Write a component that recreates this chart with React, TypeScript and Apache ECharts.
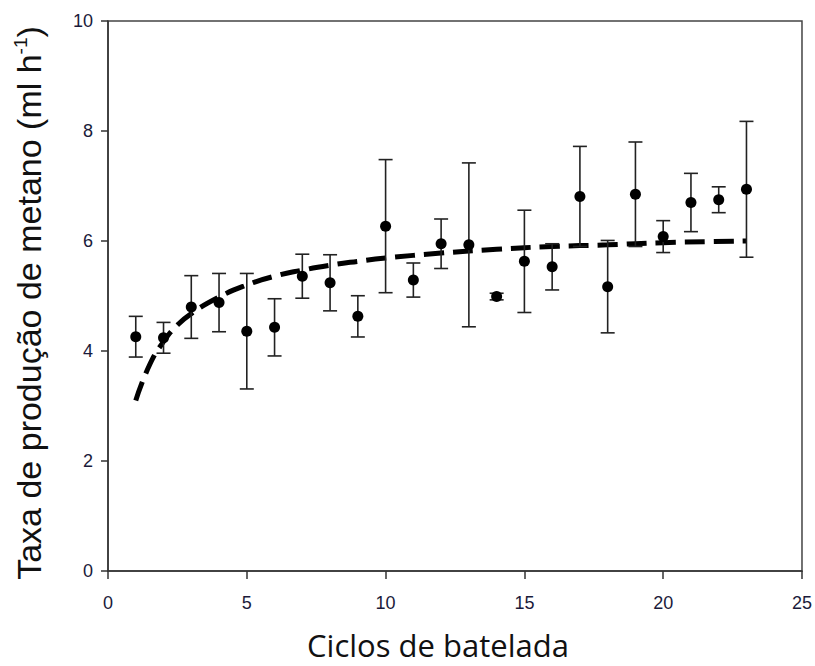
import React, { useEffect, useRef } from "react";
import * as echarts from "echarts";

const cycles = [1, 2, 3, 4, 5, 6, 7, 8, 9, 10, 11, 12, 13, 14, 15, 16, 17, 18, 19, 20, 21, 22, 23];
const means = [4.26, 4.24, 4.8, 4.88, 4.36, 4.43, 5.36, 5.24, 4.63, 6.27, 5.29, 5.95, 5.93, 4.99, 5.63, 5.53, 6.81, 5.17, 6.85, 6.08, 6.7, 6.75, 6.94];
const sds = [0.37, 0.28, 0.57, 0.53, 1.05, 0.52, 0.4, 0.51, 0.375, 1.21, 0.31, 0.45, 1.49, 0.06, 0.93, 0.42, 0.91, 0.84, 0.95, 0.29, 0.53, 0.235, 1.235];
const fitX = [1, 1.5, 2, 2.5, 3, 4, 5, 6, 7, 8, 9, 10, 12, 14, 16, 18, 20, 23];
const fitY = [3.1, 3.75, 4.17, 4.47, 4.68, 4.98, 5.2, 5.36, 5.47, 5.56, 5.63, 5.69, 5.78, 5.85, 5.9, 5.93, 5.97, 6.0];
const xTicks = [0, 5, 10, 15, 20, 25];
const yTicks = [0, 2, 4, 6, 8, 10];

export default function App() {
  const ref = useRef<HTMLDivElement>(null);
  useEffect(() => {
    if (!ref.current) return;
    const chart = echarts.init(ref.current, null, { renderer: "svg" });
    const pts = cycles.map((c, i) => [c, means[i]]);
    const errs = cycles.map((c, i) => [c, means[i] - sds[i], means[i] + sds[i]]);
    const fit = fitX.map((x, i) => [x, fitY[i]]);
    chart.setOption({
      animation: false,
      backgroundColor: "#ffffff",
      grid: { left: 108, right: 13, top: 21, bottom: 95, show: true, borderColor: "#444", borderWidth: 1.5 },
      xAxis: {
        type: "value",
        min: xTicks[0],
        max: xTicks[xTicks.length - 1],
        interval: 5,
        splitLine: { show: false },
        axisLine: { show: true, lineStyle: { color: "#333", width: 1.5 } },
        axisTick: { show: true, length: 8, lineStyle: { color: "#333", width: 1.5 } },
        axisLabel: { color: "#1a1a3a", fontSize: 18, margin: 23, fontFamily: "Liberation Sans Narrow, Arial Narrow, Liberation Sans, Arial, sans-serif" },
        name: "Ciclos de batelada",
        nameLocation: "middle",
        nameGap: 58,
        nameTextStyle: { fontSize: 31, color: "#111", fontFamily: "Open Sans, sans-serif", padding: [0, 34, 0, 0] },
      },
      yAxis: {
        type: "value",
        min: yTicks[0],
        max: yTicks[yTicks.length - 1],
        interval: 2,
        splitLine: { show: false },
        axisLine: { show: true, lineStyle: { color: "#333", width: 1.5 } },
        axisTick: { show: true, length: 7, lineStyle: { color: "#333", width: 1.5 } },
        axisLabel: { color: "#1a1a3a", fontSize: 18, margin: 15, fontFamily: "Liberation Sans, Arial, sans-serif" },
        name: "{a|Taxa de produção de metano (ml h}{s|-1}{a|)}",
        nameLocation: "middle",
        nameGap: 61,
        nameTextStyle: {
          padding: [0, 14, 0, 0],
          rich: {
            a: { fontSize: 34, color: "#111", fontFamily: "Liberation Sans, Arial, sans-serif" },
            s: { fontSize: 19, color: "#111", fontFamily: "Liberation Sans, Arial, sans-serif", padding: [0, 0, 17, 0] },
          },
        },
      },
      series: [
        {
          type: "line",
          data: fit,
          smooth: true,
          showSymbol: false,
          symbol: "none",
          lineStyle: { color: "#000", width: 5, type: [20, 9], cap: "butt" },
          z: 3,
        },
        {
          type: "custom",
          data: errs,
          z: 4,
          renderItem: (params: any, api: any) => {
            const x = api.value(0);
            const lo = api.coord([x, api.value(1)]);
            const hi = api.coord([x, api.value(2)]);
            const w = 7;
            const style = { stroke: "#222", lineWidth: 1.6 };
            return {
              type: "group",
              children: [
                { type: "line", shape: { x1: lo[0], y1: lo[1], x2: hi[0], y2: hi[1] }, style },
                { type: "line", shape: { x1: lo[0] - w, y1: lo[1], x2: lo[0] + w, y2: lo[1] }, style },
                { type: "line", shape: { x1: hi[0] - w, y1: hi[1], x2: hi[0] + w, y2: hi[1] }, style },
              ],
            };
          },
        },
        {
          type: "scatter",
          data: pts,
          symbol: "circle",
          symbolSize: 11,
          itemStyle: { color: "#000", opacity: 1 },
          z: 5,
        },
      ],
    });
    return () => chart.dispose();
  }, []);
  return <div ref={ref} style={{ width: 815, height: 666, position: "absolute", left: 0, top: 0 }} />;
}
